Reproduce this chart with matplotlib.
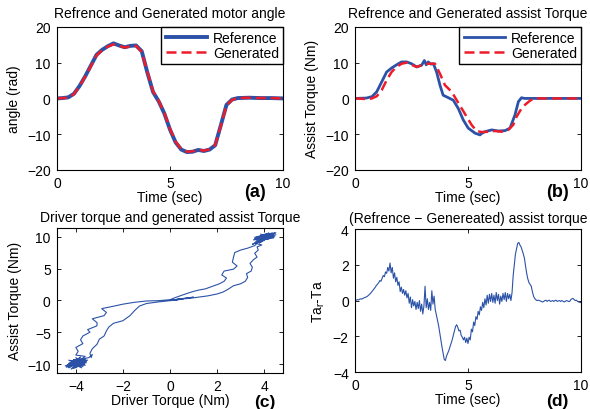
import numpy as np
import matplotlib
matplotlib.use('Agg')
import matplotlib.pyplot as plt

plt.rcParams['font.family'] = ['Liberation Sans', 'DejaVu Sans']
plt.rcParams['font.size'] = 10
plt.rcParams['axes.linewidth'] = 0.8

BLUE = '#2c52a8'
RED = '#ec1c2a'

# ---- (a) motor angle ----
t_a = [0, 0.25, 0.5, 0.75, 1.0, 1.25, 1.5, 1.75, 2.0, 2.25, 2.5, 2.75, 3.0, 3.25, 3.5,
       3.75, 4.0, 4.25, 4.5, 4.75, 5.0, 5.25, 5.5, 5.75, 6.0, 6.25, 6.5, 6.75, 7.0,
       7.25, 7.5, 7.75, 8.0, 8.5, 9.0, 9.5, 10.0]
angle_ref = [0, 0.1, 0.3, 1.3, 3.5, 6.2, 9.2, 12.2, 13.6, 14.6, 15.4, 14.8, 14.3, 14.7, 14.8,
             13.2, 7.2, 1.8, -0.8, -4.2, -8.7, -12.3, -14.3, -15.0, -14.9, -14.4, -14.7, -14.3, -13.1,
             -7.5, -1.8, -0.3, 0.1, 0.2, 0.1, 0.1, 0.0]
angle_gen = [0, 0.1, 0.2, 1.2, 3.4, 6.1, 9.0, 12.0, 13.5, 14.5, 15.1, 14.7, 14.2, 14.6, 14.7,
             13.0, 7.4, 2.0, -0.7, -4.0, -8.5, -12.1, -14.2, -14.9, -14.8, -14.3, -14.6, -14.2, -13.0,
             -7.7, -2.0, -0.4, 0.1, 0.2, 0.1, 0.1, 0.0]

# ---- (b) assist torque ----
t_b_ref = [0, 0.5, 0.75, 0.96, 1.18, 1.4, 1.62, 1.84, 2.06, 2.29, 2.5, 2.73, 2.95, 3.07, 3.15,
           3.24, 3.35, 3.47, 3.61, 3.76, 3.9, 4.13, 4.35, 4.57, 4.79, 5.01, 5.31, 5.53, 5.6,
           5.75, 6.05, 6.34, 6.64, 6.86, 7.08, 7.23, 7.37, 7.5, 8.0, 9.0, 10.0]
ta_ref = [0, 0.1, 0.5, 1.85, 4.6, 7.4, 8.5, 9.4, 10.2, 10.2, 9.7, 8.8, 9.3, 10.6, 9.4,
          10.2, 9.6, 9.7, 7.4, 3.7, 0.9, 0.2, -0.5, -2.8, -6.0, -8.3, -9.7, -10.2, -9.8,
          -9.3, -8.8, -9.1, -9.0, -8.3, -4.6, -0.9, 0.2, 0.0, 0.0, 0.0, 0.0]
t_b_gen = [0, 0.3, 0.6, 0.74, 0.96, 1.18, 1.4, 1.62, 1.84, 2.06, 2.29, 2.5, 2.73, 2.95, 3.24,
           3.54, 3.76, 3.98, 4.28, 4.5, 4.72, 4.94, 5.16, 5.38, 5.6, 5.9, 6.19, 6.49, 6.78,
           7.0, 7.15, 7.37, 7.52, 7.75, 7.96, 8.5, 9.0, 10.0]
ta_gen = [0, -0.1, -0.2, 0.0, 0.6, 2.3, 5.1, 7.4, 8.8, 9.7, 10.0, 9.4, 8.8, 9.3, 9.7,
          9.7, 6.9, 3.7, 1.85, -0.5, -2.8, -5.1, -7.4, -9.1, -9.4, -9.3, -9.1, -9.3, -8.8,
          -7.4, -5.1, -2.8, -1.8, -0.6, 0.0, 0.0, 0.0, 0.0]

# ---- (c) driver torque vs assist torque ----
driver_tq = [0.0, 0.4, 0.8, 1.2, 1.6, 2.0, 2.25, 2.45, 2.7, 3.0, 3.2, 3.3, 3.25, 3.45, 3.5, 3.4, 3.55, 3.7, 3.6, 3.75, 3.7, 3.9,
             3.6, 4.3, 3.7, 4.4, 3.8, 4.2, 3.65, 4.45, 3.75, 4.1,
             3.9, 4.35, 3.7, 4.5, 3.85, 4.25, 3.6, 4.4, 3.8, 4.15,
             3.95, 4.3, 3.7, 4.2, 3.9, 4.45, 3.8, 4.05, 3.65, 4.35,
             3.5, 4.4, 3.75, 4.5, 3.6, 4.2, 3.85, 4.4, 3.55, 4.1,
             3.6, 3.3, 3.0, 2.75, 2.7, 2.65, 2.85, 2.7, 2.3, 2.2, 2.4, 2.3, 2.1, 1.8, 1.5, 1.2, 0.9, 0.5, 0.2, 0.0,
             -0.5, -1.0, -1.5, -2.0, -2.5, -2.9, -2.7, -2.8, -3.3, -3.1, -3.1, -3.5, -3.4, -3.7, -3.8, -3.7, -4.0, -3.9, -4.0,
             -3.6, -4.3, -3.7, -4.2, -3.55, -4.4, -3.8, -4.1, -3.65, -4.3,
             -3.7, -4.0, -3.6, -4.25, -3.75, -4.1, -3.5, -4.35, -3.85, -4.05,
             -3.7, -4.2, -3.9, -4.45, -3.65, -4.15, -3.8, -4.3, -3.6, -4.0,
             -3.75, -4.35, -3.55, -4.2, -3.45, -3.3, -3.35,
             -3.4, -3.3, -3.1, -3.0, -2.8, -2.7, -2.6, -2.4, -2.0, -1.7, -1.5, -1.3, -1.0, -0.5, 0.0,
             0.3, 0.6, 0.2, 0.8, 0.4, 1.0, 0.5, 0.1, 0.3, 0.0]
assist_tq = [0.0, 0.2, 0.3, 0.5, 0.7, 1.0, 1.3, 1.7, 2.3, 2.6, 3.0, 3.6, 4.2, 4.6, 5.2, 5.8, 6.4, 6.8, 7.4, 7.9, 8.4, 8.7,
             9.0, 10.5, 9.4, 10.2, 9.1, 10.6, 9.6, 10.0, 9.3, 10.4,
             9.2, 10.6, 9.8, 10.3, 9.5, 10.1, 9.7, 10.5, 9.0, 10.2,
             9.6, 9.9, 10.0, 10.4, 9.3, 10.6, 9.7, 10.0, 9.2, 10.3,
             8.8, 10.2, 9.4, 10.6, 9.9, 9.6, 10.4, 9.8, 9.5, 10.5,
             8.6, 8.2, 7.9, 7.5, 6.8, 6.0, 5.4, 4.9, 4.6, 4.0, 3.5, 3.0, 2.6, 2.2, 1.8, 1.6, 1.3, 0.8, 0.4, 0.1,
             -0.05, -0.1, -0.3, -0.6, -1.0, -1.3, -1.9, -2.4, -2.9, -3.5, -4.0, -4.6, -5.0, -5.6, -6.2, -6.8, -7.4, -8.0, -8.6,
             -8.8, -10.6, -9.2, -10.0, -9.6, -10.5, -8.9, -10.7, -9.9, -9.4,
             -10.4, -9.0, -10.2, -9.8, -10.6, -9.3, -9.4, -10.2, -9.1, -10.5,
             -9.7, -10.8, -9.5, -10.3, -10.1, -9.6, -10.3, -9.9, -9.2, -10.6,
             -9.4, -10.1, -9.8, -9.5, -9.0, -8.5, -9.0,
             -8.3, -7.6, -6.9, -6.1, -5.6, -4.8, -4.2, -3.6, -3.2, -2.4, -1.6, -0.9, -0.5, -0.25, -0.05,
             0.05, 0.3, 0.1, 0.4, 0.2, 0.5, 0.25, 0.0, 0.1, 0.0]

# ---- (d) difference, sampled every 0.05 s ----
ta_diff = [0.00, 0.02, 0.05, 0.03, 0.07, 0.10, 0.08, 0.12, 0.15, 0.18, 0.20, 0.24, 0.30, 0.36, 0.42, 0.50, 0.58, 0.66, 0.75, 0.85,
           0.92, 1.00, 1.12, 1.08, 1.25, 1.40, 1.33, 1.60, 1.52, 1.85, 1.65, 2.10, 1.55, 1.85, 1.25, 1.55, 1.05, 1.30, 0.85, 1.05,
           0.50, 0.75, 0.40, 0.62, 0.30, 0.55, 0.15, 0.40, -0.15, 0.20, -0.40, 0.05, -0.30, -0.05, -0.50, -0.10, -0.45, 0.00, -0.60, -0.20,
           -0.75, -0.30, 0.80, -0.40, 0.10, -0.50, -0.10, -0.55, 0.55, -0.20, 0.25, -0.50, -0.80, -1.10, -1.40, -1.80, -2.20, -2.60, -2.95, -3.30,
           -3.35, -3.10, -2.95, -2.80, -2.60, -2.40, -2.20, -1.95, -1.70, -1.45, -1.35, -1.50, -1.70, -1.65, -1.95, -2.05, -2.20, -2.05, -2.35, -2.10,
           -2.40, -2.05, -2.20, -1.60, -1.75, -1.20, -1.40, -0.90, -1.05, -0.60, -0.80, -0.35, -0.55, -0.10, -0.40, 0.10, -0.25, 0.30, -0.15, 0.35,
           -0.05, 0.40, -0.10, 0.30, -0.15, 0.45, 0.00, 0.35, -0.20, 0.25, -0.05, 0.40, 0.05, 0.45, -0.05, 0.40, 0.10, 0.35, 0.00, 0.45,
           1.40, 2.00, 2.60, 2.90, 3.20, 3.25, 3.10, 3.00, 2.80, 2.60, 2.35, 1.90, 1.50, 1.20, 1.00, 0.90, 0.80, 0.50, 0.25, 0.12,
           0.05, 0.00, 0.02, 0.00, -0.02, -0.05, -0.08, -0.05, 0.00, 0.02, -0.05, 0.00, 0.02, -0.05, -0.03, 0.00, -0.05, 0.00, 0.02, -0.05,
           -0.02, 0.00, -0.05, 0.00, -0.03, -0.08, -0.05, 0.00, -0.02, -0.05, -0.05, 0.05, 0.10, 0.12, 0.05, 0.00, 0.02, -0.05, -0.08, -0.10,
           -0.12]
t_d = np.linspace(0, 10, len(ta_diff))


def matlab_axes(ax):
    ax.tick_params(direction='in', top=True, right=True, length=3, width=0.6, pad=4.5, labelsize=10)
    for s in ax.spines.values():
        s.set_linewidth(0.8)


fig = plt.figure(figsize=(5.9, 4.1), dpi=100)

# (a)
ax1 = fig.add_axes([0.0966, 0.583, 0.383, 0.349])
ax1.plot(t_a, angle_ref, color=BLUE, lw=2.8, label='Reference')
ax1.plot(t_a, angle_gen, color=RED, lw=1.8, ls=(0, (4, 2)), label='Generated')
ax1.set_xlim(0, 10)
ax1.set_ylim(-20, 20)
ax1.set_xticks([0, 5, 10])
ax1.set_yticks([-20, -10, 0, 10, 20])
ax1.set_title('Refrence and Generated motor angle', fontsize=10, pad=7)
ax1.set_xlabel('Time (sec)', labelpad=0)
ax1.set_ylabel('angle (rad)', labelpad=4)
ax1.legend(loc='upper right', borderaxespad=0, fancybox=False, edgecolor='k', framealpha=1,
           handlelength=3, handletextpad=0.4, labelspacing=0.05, borderpad=0.3)
ax1.text(0.876, -0.15, '(a)', transform=ax1.transAxes, fontsize=13, fontweight='bold',
         ha='center', va='center')
matlab_axes(ax1)

# (b)
ax2 = fig.add_axes([0.6017, 0.583, 0.383, 0.349])
ax2.plot(t_b_ref, ta_ref, color=BLUE, lw=2.0, label='Reference')
ax2.plot(t_b_gen, ta_gen, color=RED, lw=1.8, ls=(0, (4, 2)), label='Generated')
ax2.set_xlim(0, 10)
ax2.set_ylim(-20, 20)
ax2.set_xticks([0, 5, 10])
ax2.set_yticks([-20, -10, 0, 10, 20])
ax2.set_title('Refrence and Generated assist Torque', fontsize=10, pad=7)
ax2.set_xlabel('Time (sec)', labelpad=0)
ax2.set_ylabel('Assist Torque (Nm)', labelpad=4)
ax2.legend(loc='upper right', borderaxespad=0, fancybox=False, edgecolor='k', framealpha=1,
           handlelength=3, handletextpad=0.4, labelspacing=0.05, borderpad=0.3)
ax2.text(0.894, -0.15, '(b)', transform=ax2.transAxes, fontsize=13, fontweight='bold',
         ha='center', va='center')
matlab_axes(ax2)

# (c)
ax3 = fig.add_axes([0.0966, 0.088, 0.383, 0.354])
ax3.plot(driver_tq, assist_tq, color=BLUE, lw=0.8)
ax3.set_xlim(-4.8, 4.8)
ax3.set_ylim(-11.4, 11.4)
ax3.set_xticks([-4, -2, 0, 2, 4])
ax3.set_yticks([-10, -5, 0, 5, 10])
ax3.set_title('Driver torque and generated assist Torque', fontsize=10, pad=5)
ax3.set_xlabel('Driver Torque (Nm)', labelpad=0)
ax3.set_ylabel('Assist Torque (Nm)', labelpad=4)
ax3.text(0.92, -0.2, '(c)', transform=ax3.transAxes, fontsize=12.5, fontweight='bold',
         ha='center', va='center')
matlab_axes(ax3)

# (d)
ax4 = fig.add_axes([0.6017, 0.090, 0.383, 0.349])
ax4.plot(t_d, ta_diff, color=BLUE, lw=0.8)
ax4.set_xlim(0, 10)
ax4.set_ylim(-4, 4)
ax4.set_xticks([0, 5, 10])
ax4.set_yticks([-4, -2, 0, 2, 4])
ax4.set_title('(Refrence \u2212 Genereated) assist torque', fontsize=10, pad=5)
ax4.set_xlabel('Time (sec)', labelpad=0)
ax4.set_ylabel(r'Ta$_{\mathregular{r}}$-Ta', labelpad=4)
ax4.text(0.894, -0.2, '(d)', transform=ax4.transAxes, fontsize=12.5, fontweight='bold',
         ha='center', va='center')
matlab_axes(ax4)

fig.savefig('out.png', dpi=100)
